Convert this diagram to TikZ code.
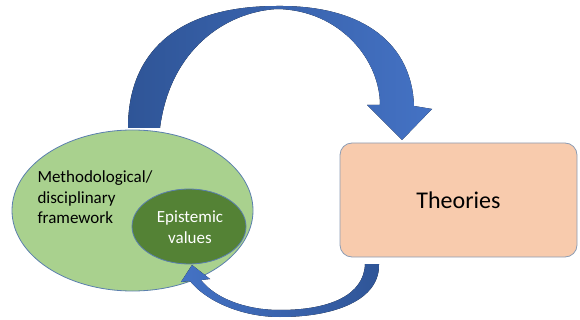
\documentclass[tikz,border=0pt]{standalone}
\usepackage{fontspec}
\setmainfont{Carlito}
\usepackage{tikz}
\usetikzlibrary{shapes.geometric}
\definecolor{lightgreen}{HTML}{A9D18E}
\definecolor{darkgreen}{HTML}{548235}
\definecolor{peach}{HTML}{F8CBAD}
\definecolor{edgeblue}{HTML}{5B7FAE}
\definecolor{boxedge}{HTML}{8C9DB5}
\definecolor{arrdark}{HTML}{2F5597}
\definecolor{arrblue}{HTML}{4472C4}

\begin{document}
\begin{tikzpicture}[x=1pt,y=-1pt,
  blob/.style={ellipse,draw=edgeblue,line width=0.8pt,inner sep=0pt},
  lbl/.style={font=\fontsize{17}{20.5}\selectfont,align=left}]
\useasboundingbox (0,0) rectangle (580,320);

\node[blob,fill=lightgreen,minimum width=241,minimum height=161] (frame) at (132.5,210.5) {};
\node[blob,fill=darkgreen,minimum width=114,minimum height=75] (values) at (189,226.5) {};
\node[lbl,anchor=west] (frametext) at (34,197.5) {Methodological/\\disciplinary\\framework};
\node[lbl,align=center,text=white] (valuestext) at (190,227) {Epistemic\\values};

\node[draw=boxedge,line width=0.8pt,fill=peach,rounded corners=12,
  minimum width=237,minimum height=114] (theories) at (458.5,200) {};
\node[font=\fontsize{24}{28}\selectfont] (theorytext) at (theories) {Theories};

% framework -> theories
\fill[left color=arrdark,right color=arrblue]
  (128,128) .. controls (128,50) and (180,6) .. (277,6)
  .. controls (365,5) and (412,45) .. (414,106)
  -- (432,109) -- (402,140) -- (367,105) -- (380,105)
  .. controls (380,60) and (340,10) .. (277,9)
  .. controls (225,12) and (170,50) .. (160,128) -- cycle;

% theories -> epistemic values
\fill[left color=arrblue,right color=arrdark]
  (379,264) .. controls (380,300) and (335,317) .. (280,317)
  .. controls (240,317) and (205,300) .. (190,281)
  -- (181,282) -- (192,265) -- (210,279) -- (201,280)
  .. controls (215,298) and (245,310) .. (280,310)
  .. controls (330,310) and (364,295) .. (365,264) -- cycle;
\end{tikzpicture}
\end{document}
